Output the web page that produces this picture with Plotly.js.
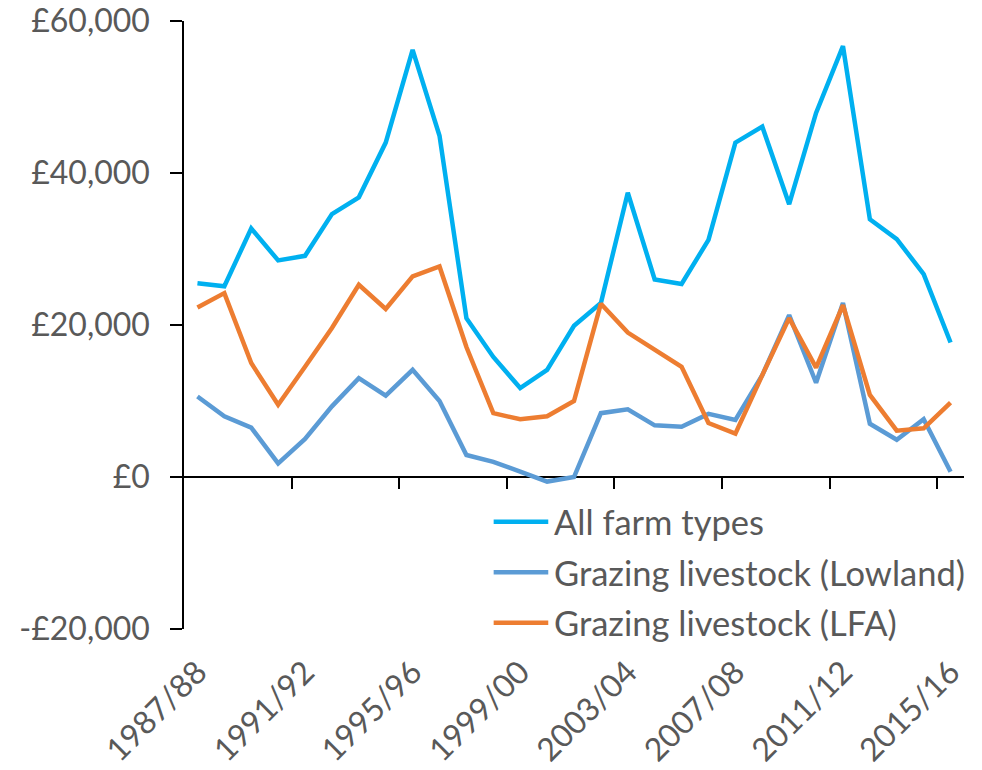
<!DOCTYPE html>
<html>
<head>
<meta charset="utf-8">
<script src="https://cdn.plot.ly/plotly-3.0.1.min.js"></script>
<style>
  html, body { margin: 0; padding: 0; background: #ffffff; }
  #chart { width: 982px; height: 770px; }
</style>
</head>
<body>
<div id="chart"></div>
<script>
// farm business income by year
const years = [
  "1987/88", "1988/89", "1989/90", "1990/91", "1991/92", "1992/93", "1993/94",
  "1994/95", "1995/96", "1996/97", "1997/98", "1998/99", "1999/00", "2000/01",
  "2001/02", "2002/03", "2003/04", "2004/05", "2005/06", "2006/07", "2007/08",
  "2008/09", "2009/10", "2010/11", "2011/12", "2012/13", "2013/14", "2014/15",
  "2015/16"
];

const allFarmTypes = [
  25500, 25100, 32700, 28500, 29100, 34600, 36800, 44000, 56200, 44900,
  20900, 15800, 11700, 14100, 19900, 22900, 37400, 26000, 25400, 31200,
  44000, 46100, 35900, 47900, 56700, 33900, 31300, 26700, 17700
];

const grazingLowland = [
  10600, 8000, 6500, 1800, 5000, 9300, 13000, 10700, 14100, 10000,
  2900, 2000, 700, -600, 0, 8400, 8900, 6800, 6600, 8300,
  7500, 13400, 21300, 12400, 22900, 7000, 4900, 7600, 700
];

const grazingLfa = [
  22300, 24200, 15000, 9500, 14500, 19600, 25300, 22100, 26400, 27700,
  17100, 8400, 7600, 8000, 10000, 22800, 19000, 16700, 14500, 7100,
  5700, 13400, 20900, 14400, 22600, 10800, 6100, 6400, 9800
];

const seriesNames = ["All farm types", "Grazing livestock (Lowland)", "Grazing livestock (LFA)"];
const seriesColors = ["#00b0f0", "#5b9bd5", "#ed7d31"];

const yTickVals = [-20000, 0, 20000, 40000, 60000];
const yTickText = ["-£20,000", "£0", "£20,000", "£40,000", "£60,000"];

const LABEL_STEP = 4;
const FONT = "Lato, 'Open Sans', sans-serif";
const TEXT_COLOR = "#595959";

const seriesValues = [allFarmTypes, grazingLowland, grazingLfa];

const traces = seriesValues.map(function (vals, i) {
  return {
    type: "scatter",
    mode: "lines",
    x: years,
    y: vals,
    name: seriesNames[i],
    line: { color: seriesColors[i], width: 4.5 },
    showlegend: false,
    hoverinfo: "x+y+name"
  };
});

// empty trace so the zero-line axis (x2) exists
traces.push({ type: "scatter", x: [], y: [], xaxis: "x2", showlegend: false, hoverinfo: "skip" });

const labelVals = years.filter(function (y, i) { return i % LABEL_STEP === 0; });
const boundaryVals = [];
for (let i = LABEL_STEP; i < years.length; i += LABEL_STEP) {
  boundaryVals.push(i - 0.5);
}

// hand-made legend, lines a bit longer than plotly's
const shapes = [];
const annotations = [];
const legX0 = 0.397, legX1 = 0.467, legTextX = 0.472, legY0 = 0.1765, legStep = 0.0831;
seriesNames.forEach(function (name, i) {
  const yy = legY0 - i * legStep;
  shapes.push({
    type: "line", xref: "paper", yref: "paper",
    x0: legX0, x1: legX1, y0: yy, y1: yy,
    line: { color: seriesColors[i], width: 4.5 }
  });
  annotations.push({
    xref: "paper", yref: "paper", x: legTextX, y: yy,
    xanchor: "left", yanchor: "middle", showarrow: false,
    text: name, font: { family: FONT, size: 34.5, color: TEXT_COLOR }
  });
});

const layout = {
  width: 982,
  height: 770,
  margin: { l: 184, r: 18, t: 21, b: 141 },
  paper_bgcolor: "#ffffff",
  plot_bgcolor: "#ffffff",
  font: { family: FONT, size: 32, color: TEXT_COLOR },
  showlegend: false,
  xaxis: {
    type: "category",
    range: [-0.5, years.length - 0.5],
    tickmode: "array",
    tickvals: labelVals,
    ticktext: labelVals,
    tickangle: -45,
    ticks: "",
    ticklabelstandoff: 17,
    showline: false,
    showgrid: false,
    zeroline: false,
    layer: "below traces"
  },
  xaxis2: {
    type: "linear",
    overlaying: "x",
    anchor: "free",
    position: (0 - yTickVals[0]) / (yTickVals[yTickVals.length - 1] - yTickVals[0]),
    range: [-0.5, years.length - 0.5],
    tickmode: "array",
    tickvals: boundaryVals,
    showticklabels: false,
    ticks: "outside",
    ticklen: 11,
    tickwidth: 1.5,
    tickcolor: "#000000",
    showline: true,
    linecolor: "#000000",
    linewidth: 1.5,
    showgrid: false,
    zeroline: false,
    layer: "below traces"
  },
  yaxis: {
    range: [yTickVals[0], yTickVals[yTickVals.length - 1]],
    tickmode: "array",
    tickvals: yTickVals,
    ticktext: yTickText,
    ticks: "outside",
    ticklen: 12,
    tickwidth: 1.5,
    tickcolor: "#000000",
    ticklabelstandoff: 14,
    showline: true,
    linecolor: "#000000",
    linewidth: 1.5,
    showgrid: false,
    zeroline: false,
    layer: "below traces"
  },
  shapes: shapes,
  annotations: annotations
};

Plotly.newPlot("chart", traces, layout, { displayModeBar: false, responsive: false });
</script>
</body>
</html>
